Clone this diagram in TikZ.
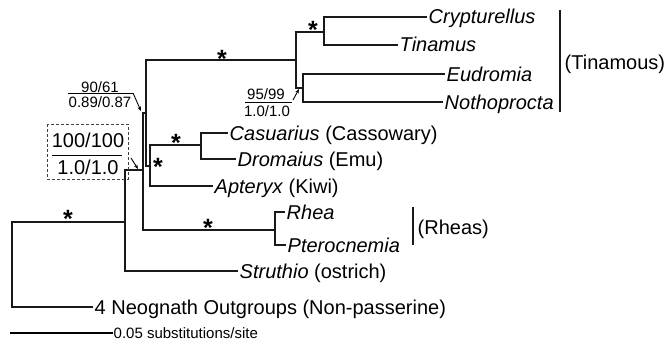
\documentclass[tikz,border=0pt]{standalone}
\usepackage{fontspec}
\setmainfont{Liberation Sans}
\usetikzlibrary{arrows.meta}
\begin{document}
\begin{tikzpicture}[x=1pt,y=-1pt,
  br/.style={line width=2.3pt,line join=miter,draw=black!90},
  leaf/.style={anchor=west,inner sep=1.5pt,font=\fontsize{20}{24}\selectfont,text height=15pt,text depth=1pt},
  ast/.style={anchor=base,inner sep=0pt,yshift=-14pt,font=\fontsize{25}{25}\selectfont\bfseries},
  supp/.style={inner sep=0pt,font=\fontsize{15}{18}\selectfont},
  bigl/.style={inner sep=0pt,font=\fontsize{20}{24}\selectfont},
  frac/.style={line width=0.9pt},
  ptr/.style={line width=0.9pt,-{Stealth[length=4.5pt,width=3.5pt]}},
  dbox/.style={line width=0.9pt,draw=black!75,dash pattern=on 3pt off 2pt},
]
\useasboundingbox (0,0) rectangle (668,345);

% internal node coordinates
\coordinate (rA) at (12,222);  \coordinate (rB) at (12,307);
\coordinate (Pm) at (125,222); \coordinate (Pt) at (125,170); \coordinate (Pb) at (125,271);
\coordinate (Am) at (143,170); \coordinate (At) at (143,113); \coordinate (Ab) at (143,230);
\coordinate (Bm) at (146,113); \coordinate (Bt) at (146,60);  \coordinate (Bb) at (146,166);
\coordinate (Km) at (150,166); \coordinate (Kt) at (150,145); \coordinate (Kb) at (150,186);
\coordinate (Cm) at (201,145); \coordinate (Ct) at (201,133); \coordinate (Cb) at (201,159);
\coordinate (Rm) at (275,230); \coordinate (Rt) at (275,212); \coordinate (Rb) at (275,245);
\coordinate (Tm) at (296,60);  \coordinate (Tt) at (296,32);  \coordinate (Tb) at (296,88);
\coordinate (T1m) at (324,32); \coordinate (T1t) at (324,17); \coordinate (T1b) at (324,45);
\coordinate (T2m) at (303,88); \coordinate (T2t) at (303,74); \coordinate (T2b) at (303,102);

% leaves
\node[leaf] (cryp) at (427,17) {\itshape Crypturellus};
\node[leaf] (tina) at (398,45) {\itshape Tinamus};
\node[leaf] (eudr) at (445,74) {\itshape Eudromia};
\node[leaf] (noth) at (443,102) {\itshape Nothoprocta};
\node[leaf] (casu) at (228,133) {\textit{Casuarius} (Cassowary)};
\node[leaf] (drom) at (236,159) {\textit{Dromaius} (Emu)};
\node[leaf] (apte) at (213,186) {\textit{Apteryx} (Kiwi)};
\node[leaf] (rhea) at (285,212) {\itshape Rhea};
\node[leaf] (pter) at (286,245) {\itshape Pterocnemia};
\node[leaf] (stru) at (238,271) {\textit{Struthio} (ostrich)};
\node[leaf] (neo) at (93,307) {4 Neognath Outgroups (Non-passerine)};

% branches
\draw[br] (cryp.west) -- (T1t) -- (T1b) -- (tina.west);
\draw[br] (eudr.west) -- (T2t) -- (T2b) -- (noth.west);
\draw[br] (T1m) -- (Tt) -- (Tb) -- (T2m);
\draw[br] (Tm) -- (Bt) -- (Bb) -- (Km);
\draw[br] (casu.west) -- (Ct) -- (Cb) -- (drom.west);
\draw[br] (Cm) -- (Kt) -- (Kb) -- (apte.west);
\draw[br] (Bm) -- (At) -- (Ab) -- (Rm);
\draw[br] (rhea.west) -- (Rt) -- (Rb) -- (pter.west);
\draw[br] (Am) -- (Pt) -- (Pb) -- (stru.west);
\draw[br] (Pm) -- (rA) -- (rB) -- (neo.west);

% group brackets
\coordinate (gT1) at (560,10); \coordinate (gT2) at (560,112);
\draw[br] (gT1) -- (gT2);
\node[leaf] (tinamous) at (563,63) {(Tinamous)};
\coordinate (gR1) at (413,207); \coordinate (gR2) at (413,245);
\draw[br] (gR1) -- (gR2);
\node[leaf] (rheas) at (416,227) {(Rheas)};

% asterisks
\node[ast] (s1) at (222,53) {*};
\node[ast] (s2) at (313,24) {*};
\node[ast] (s3) at (176,137) {*};
\node[ast] (s4) at (158,161) {*};
\node[ast] (s5) at (208,222) {*};
\node[ast] (s6) at (68,213) {*};

% support annotation 90/61
\node[supp] (l90) at (100,87) {90/61};
\node[supp] (l089) at (100,102) {0.89/0.87};
\coordinate (f1a) at (68,93); \coordinate (f1b) at (133,93);
\draw[frac] (f1a) -- (f1b);
\coordinate (a1) at (141,111);
\draw[ptr] (f1b) -- (a1);

% support annotation 100/100 (dashed box)
\coordinate (bx1) at (47,124); \coordinate (bx2) at (128,179);
\draw[dbox] (bx1) rectangle (bx2);
\node[bigl] (l100) at (88,140) {100/100};
\node[bigl] (l10) at (88,167) {1.0/1.0};
\coordinate (f2a) at (52,155); \coordinate (f2b) at (122,155);
\draw[frac] (f2a) -- (f2b);
\coordinate (a2s) at (131,158); \coordinate (a2e) at (138,169);
\draw[ptr] (a2s) -- (a2e);

% support annotation 95/99
\node[supp] (l95) at (266,94) {95/99};
\node[supp] (l1b) at (267,111) {1.0/1.0};
\coordinate (f3a) at (245,102); \coordinate (f3b) at (292,102);
\draw[frac] (f3a) -- (f3b);
\coordinate (a3s) at (293,100); \coordinate (a3e) at (299,89);
\draw[ptr] (a3s) -- (a3e);

% scale bar
\coordinate (sb) at (10,333);
\node[anchor=west,inner sep=0.5pt,font=\fontsize{15}{18}\selectfont] (sbt) at (113,333) {0.05 substitutions/site};
\draw[line width=1.8pt] (sb) -- (sbt.west);
\end{tikzpicture}
\end{document}
